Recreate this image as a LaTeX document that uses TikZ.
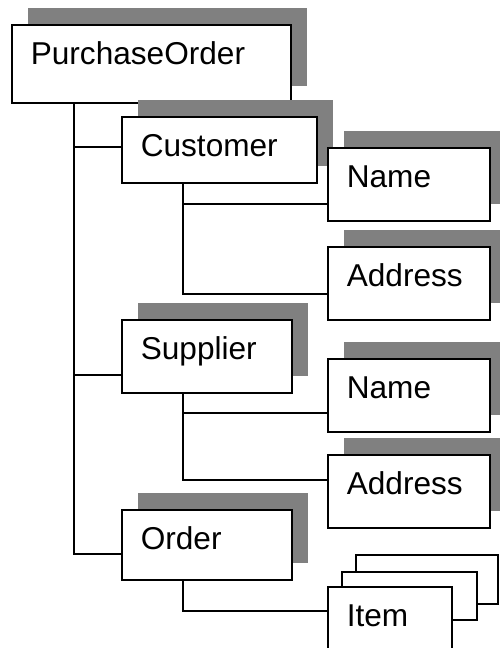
\documentclass[tikz,border=0pt]{standalone}
\usepackage{fontspec}
\setmainfont{Liberation Sans}
\usetikzlibrary{shadows}

\begin{document}
\begin{tikzpicture}[x=1pt, y=-1pt, font=\fontsize{31.6}{36}\selectfont,
  element/.style={draw, fill=white, line width=1.6pt, anchor=north west, align=left,
                  inner xsep=19pt, inner ysep=0pt, text height=39.5pt},
  shadowed/.style={drop shadow={shadow xshift=16pt, shadow yshift=17pt, fill=black!50, opacity=1}},
  link/.style={line width=1.6pt}]
  \useasboundingbox (0,0) rectangle (500,648);
  % tree of elements
  \node[element, shadowed, text width=241pt, text depth=38.5pt] (po) at (11,24) {PurchaseOrder};
  \node[element, shadowed, text width=157pt, text depth=26.5pt] (cust) at (121,116) {Customer};
  \node[element, shadowed, text width=124pt, text depth=33.5pt] (cname) at (327,147) {Name};
  \node[element, shadowed, text width=124pt, text depth=33.5pt] (caddr) at (327,246) {Address};
  \node[element, shadowed, text width=132pt, text depth=33.5pt] (sup) at (121,319) {Supplier};
  \node[element, shadowed, text width=124pt, text depth=33.5pt] (sname) at (327,358) {Name};
  \node[element, shadowed, text width=124pt, text depth=33.5pt] (saddr) at (327,454) {Address};
  \node[element, shadowed, text width=132pt, text depth=30.5pt] (order) at (121,509) {Order};
  % repeated items
  \node[element, text width=104pt, text depth=9.5pt] (item3) at (355,554) {};
  \node[element, text width=97pt, text depth=8.5pt] (item2) at (341,571) {};
  \node[element, text width=86pt, text depth=33.5pt] (item) at (327,586) {Item};
  % connectors
  \draw[link] (po.south -| 74,0) |- (order.west |- 0,554);
  \draw[link] (po.south -| 74,0) |- (cust.west |- 0,147);
  \draw[link] (po.south -| 74,0) |- (sup.west |- 0,375);
  \draw[link] (cust.south -| 183,0) |- (caddr.west |- 0,294);
  \draw[link] (cust.south -| 183,0) |- (cname.west |- 0,204);
  \draw[link] (sup.south -| 183,0) |- (saddr.west |- 0,480);
  \draw[link] (sup.south -| 183,0) |- (sname.west |- 0,413);
  \draw[link] (order.south -| 183,0) |- (item.west |- 0,611);
\end{tikzpicture}
\end{document}
